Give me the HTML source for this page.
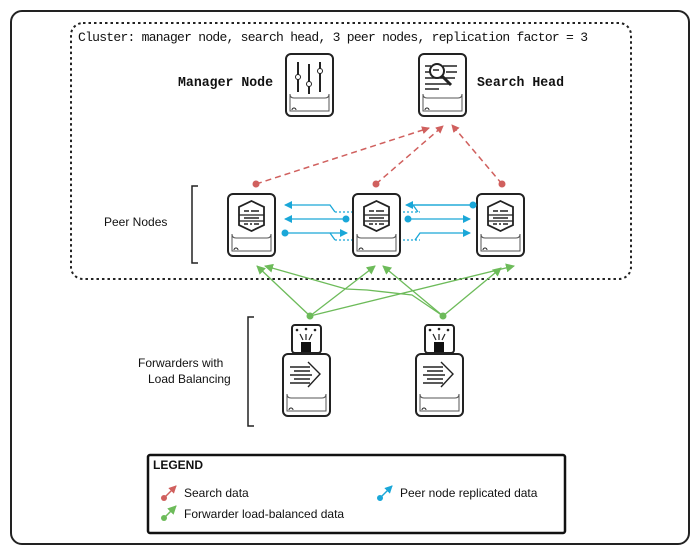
<!DOCTYPE html>
<html><head><meta charset="utf-8"><style>
html,body{margin:0;padding:0;background:#fff;width:700px;height:555px;overflow:hidden}
svg{display:block}
.s{font-family:"Liberation Sans",sans-serif}
.m{font-family:"Liberation Mono",monospace}
</style></head><body>
<svg width="700" height="555" viewBox="0 0 700 555" xmlns="http://www.w3.org/2000/svg">
<defs>
<marker id="ar" markerWidth="8" markerHeight="8" refX="7" refY="4" orient="auto" markerUnits="userSpaceOnUse"><path d="M0,0 L8,4 L0,8z" fill="#d0605e"/></marker>
<marker id="ab" markerWidth="8" markerHeight="8" refX="7" refY="4" orient="auto" markerUnits="userSpaceOnUse"><path d="M0,0 L8,4 L0,8z" fill="#1aa7d8"/></marker>
<marker id="ag" markerWidth="9" markerHeight="9" refX="8" refY="4.5" orient="auto" markerUnits="userSpaceOnUse"><path d="M0,0 L9,4.5 L0,9z" fill="#6dbb5a"/></marker>
<g id="dev">
<rect x="0" y="0" width="47" height="62" rx="5" fill="#fff" stroke="#222" stroke-width="2"/>
<path d="M4,40 Q4,44 8,44 L39,44 Q43,44 43,40 L43,57 L4,57 Z" fill="none" stroke="#555" stroke-width="1"/>
<path d="M6,56 a2,2 0 0 1 4,0" fill="none" stroke="#222" stroke-width="1"/>
</g>
<g id="peer">
<use href="#dev"/>
<path d="M23.5,7 L36,13 L36,31 L23.5,37 L11,31 L11,13 Z" fill="none" stroke="#222" stroke-width="1.8"/>
<line x1="11" y1="21" x2="36" y2="21" stroke="#222" stroke-width="1.2"/>
<line x1="11" y1="27" x2="36" y2="27" stroke="#222" stroke-width="1.2"/>
<path d="M16,17h5M23,17h8M16,24h15M16,30h4M22,30h2M26,30h5" stroke="#222" stroke-width="1.5"/>
</g>
<g id="fwd">
<rect x="9" y="-29" width="29" height="28" rx="3" fill="#fff" stroke="#222" stroke-width="2"/>
<rect x="18" y="-12" width="10" height="10" fill="#111"/>
<path d="M23,-14 V-20 M20,-14 L17,-20 M26,-14 L29,-20" stroke="#222" stroke-width="1.2"/>
<circle cx="14" cy="-24" r="1.3" fill="#222"/><circle cx="23" cy="-25" r="1.3" fill="#222"/><circle cx="32" cy="-24" r="1.3" fill="#222"/>
<use href="#dev"/>
<path d="M7,13h20M11,17h16M7,21h22M11,25h16M7,29h20M25,8 L37,20 L25,33" fill="none" stroke="#222" stroke-width="1.4"/>
</g>
</defs>
<rect x="11" y="11" width="678" height="533" rx="11" fill="none" stroke="#222" stroke-width="2"/>
<rect x="71" y="23" width="560" height="256" rx="12" fill="none" stroke="#222" stroke-width="2" stroke-dasharray="2.5,3"/>
<text x="78" y="41" class="m" font-size="13" fill="#111" textLength="510">Cluster: manager node, search head, 3 peer nodes, replication factor = 3</text>

<text x="178" y="86" class="m" font-size="14" font-weight="bold" fill="#111" textLength="95" lengthAdjust="spacingAndGlyphs">Manager Node</text>
<text x="477" y="86" class="m" font-size="14" font-weight="bold" fill="#111" textLength="87" lengthAdjust="spacingAndGlyphs">Search Head</text>

<use href="#dev" x="286" y="54"/>
<g stroke="#222" stroke-width="2"><line x1="298" y1="62" x2="298" y2="92"/><line x1="309" y1="64" x2="309" y2="94"/><line x1="320" y1="62" x2="320" y2="92"/></g>
<g fill="#fff" stroke="#222" stroke-width="1"><circle cx="298" cy="77" r="2.5"/><circle cx="309" cy="84" r="2.5"/><circle cx="320" cy="71" r="2.5"/></g>

<use href="#dev" x="419" y="54"/>
<path d="M425,66h6M425,72h6M425,78h30M425,84h24M425,89h14M443,66h14M446,72h11" stroke="#222" stroke-width="1.5"/>
<circle cx="437" cy="71" r="7" fill="#fff" stroke="#222" stroke-width="2"/>
<path d="M433,70h6" stroke="#222" stroke-width="1.5"/>
<line x1="442" y1="76" x2="451" y2="85" stroke="#222" stroke-width="3"/>

<text x="104" y="226" class="s" font-size="12" fill="#111">Peer Nodes</text>
<path d="M198,186 H192 V263 H198" fill="none" stroke="#222" stroke-width="1.5"/>

<!-- blue (behind devices) -->
<g stroke="#1aa7d8" stroke-width="1.3" fill="none">
<path d="M335,212 L330,205 H285" marker-end="url(#ab)"/>
<path d="M335,212 H420" stroke-dasharray="2,2"/>
<line x1="346" y1="219" x2="285" y2="219" marker-end="url(#ab)"/>
<path d="M285,233 H330 L335,240"/>
<path d="M335,240 H420" stroke-dasharray="2,2"/>
<line x1="330" y1="233" x2="347" y2="233" marker-end="url(#ab)"/>
<path d="M418,212 L413,205 H472"/>
<line x1="472" y1="205" x2="406" y2="205" marker-end="url(#ab)"/>
<line x1="408" y1="219" x2="470" y2="219" marker-end="url(#ab)"/>
<path d="M415,240 L420,233 H470" marker-end="url(#ab)"/>
</g>

<use href="#peer" x="228" y="194"/>
<use href="#peer" x="353" y="194"/>
<use href="#peer" x="477" y="194"/>

<g fill="#1aa7d8"><circle cx="346" cy="219" r="3.5"/><circle cx="285" cy="233" r="3.5"/><circle cx="473" cy="205" r="3.5"/><circle cx="408" cy="219" r="3.5"/></g>

<!-- red -->
<g stroke="#d0605e" stroke-width="1.5" stroke-dasharray="6,4" fill="none">
<line x1="256" y1="184" x2="429" y2="128" marker-end="url(#ar)"/>
<line x1="376" y1="184" x2="443" y2="126" marker-end="url(#ar)"/>
<line x1="502" y1="184" x2="452" y2="125" marker-end="url(#ar)"/>
</g>
<g fill="#d0605e"><circle cx="256" cy="184" r="3.5"/><circle cx="376" cy="184" r="3.5"/><circle cx="502" cy="184" r="3.5"/></g>

<!-- green -->
<g stroke="#6dbb5a" stroke-width="1.3" fill="none">
<line x1="310" y1="316" x2="257" y2="266" marker-end="url(#ag)"/>
<line x1="310" y1="316" x2="375" y2="266" marker-end="url(#ag)"/>
<line x1="310" y1="316" x2="514" y2="266" marker-end="url(#ag)"/>
<path d="M443,316 L412,295 L367,290 L346,289 L265,266" marker-end="url(#ag)"/>
<line x1="443" y1="316" x2="383" y2="266" marker-end="url(#ag)"/>
<line x1="443" y1="316" x2="501" y2="268" marker-end="url(#ag)"/>
</g>
<g fill="#6dbb5a"><circle cx="310" cy="316" r="3.5"/><circle cx="443" cy="316" r="3.5"/></g>

<text x="138" y="367" class="s" font-size="12" fill="#111">Forwarders with</text>
<text x="148" y="383" class="s" font-size="12" fill="#111">Load Balancing</text>
<path d="M254,317 H248 V426 H254" fill="none" stroke="#222" stroke-width="1.5"/>
<use href="#fwd" x="283" y="354"/>
<use href="#fwd" x="416" y="354"/>

<!-- legend -->
<rect x="148" y="455" width="417" height="78" rx="2" fill="#fff" stroke="#111" stroke-width="2.5"/>
<text x="153" y="469" class="s" font-size="12" font-weight="bold" fill="#111">LEGEND</text>
<line x1="164" y1="498" x2="176" y2="486" stroke="#d0605e" stroke-width="1.5" marker-end="url(#ar)"/>
<circle cx="164" cy="498" r="3" fill="#d0605e"/>
<text x="184" y="497" class="s" font-size="12" fill="#111">Search data</text>
<line x1="164" y1="518" x2="176" y2="506" stroke="#6dbb5a" stroke-width="1.5" marker-end="url(#ag)"/>
<circle cx="164" cy="518" r="3" fill="#6dbb5a"/>
<text x="184" y="518" class="s" font-size="12" fill="#111">Forwarder load-balanced data</text>
<line x1="380" y1="498" x2="392" y2="486" stroke="#1aa7d8" stroke-width="1.5" marker-end="url(#ab)"/>
<circle cx="380" cy="498" r="3" fill="#1aa7d8"/>
<text x="400" y="497" class="s" font-size="12" fill="#111">Peer node replicated data</text>
</svg>
</body></html>
